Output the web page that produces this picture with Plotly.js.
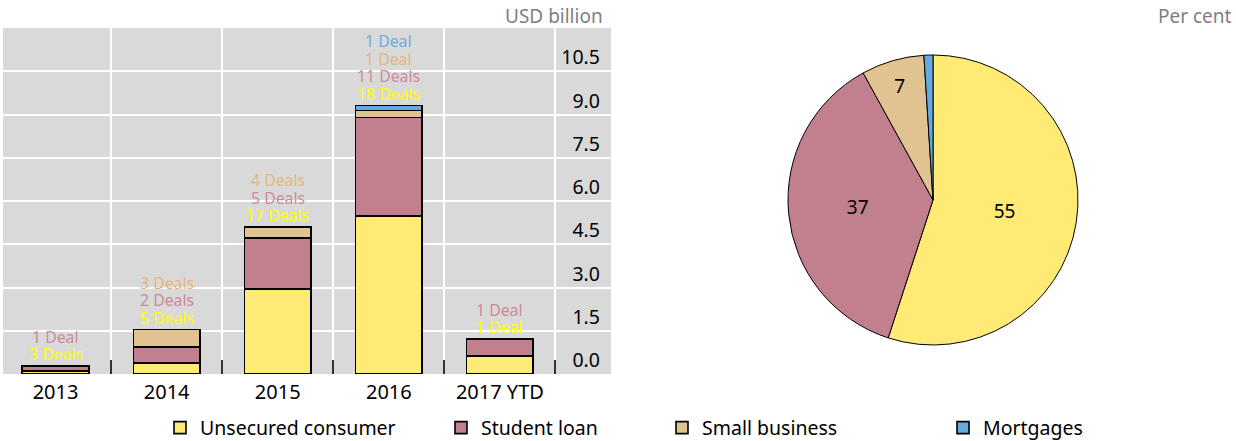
<!DOCTYPE html>
<html>
<head>
<meta charset="utf-8">
<script src="https://cdn.plot.ly/plotly-3.0.1.min.js"></script>
<style>
  html, body { margin: 0; padding: 0; background: #ffffff; }
  #chart { width: 1236px; height: 441px; }
</style>
</head>
<body>
<div id="chart"></div>
<script>
// ---- Data ----
const categories = ['2013', '2014', '2015', '2016', '2017 YTD'];
const seriesNames = ['Unsecured consumer', 'Student loan', 'Small business', 'Mortgages'];
const unsecured = [0.10, 0.39, 2.94, 5.48, 0.63];
const studentLoan = [0.17, 0.54, 1.78, 3.42, 0.58];
const smallBusiness = [null, 0.61, 0.37, 0.24, null];
const mortgages = [null, null, null, 0.17, null];
const unsecuredDeals = ['3 Deals', '5 Deals', '17 Deals', '18 Deals', '1 Deal'];
const studentDeals = ['1 Deal', '2 Deals', '5 Deals', '11 Deals', '1 Deal'];
const smallBusinessDeals = ['', '3 Deals', '4 Deals', '1 Deal', ''];
const mortgageDeals = ['', '', '', '1 Deal', ''];
const pieShares = [55, 37, 7, 1];
const pieText = ['55', '37', '7', ''];
const yTickVals = [0, 1.5, 3, 4.5, 6, 7.5, 9, 10.5];

// ---- Styles ----
const fillColors = ['#ffea75', '#c27f8e', '#e1c391', '#66abdf'];
const labelColors = ['#ffff00', '#cc8b99', '#e3b680', '#69ade3'];
const FONT = 'Noto Sans, Open Sans, sans-serif';

const seriesValues = [unsecured, studentLoan, smallBusiness, mortgages];
const seriesDeals = [unsecuredDeals, studentDeals, smallBusinessDeals, mortgageDeals];
const legendIds = ['legend', 'legend', 'legend2', 'legend2'];

const traces = seriesValues.map((vals, s) => ({
  type: 'bar',
  name: seriesNames[s],
  x: categories,
  y: vals,
  marker: { color: fillColors[s], line: { color: '#000000', width: 1.6 } },
  legend: legendIds[s],
  hoverinfo: 'skip'
}));

traces.push({
  type: 'pie',
  values: pieShares,
  labels: seriesNames,
  text: pieText,
  textinfo: 'text',
  textposition: 'inside',
  insidetextorientation: 'horizontal',
  textfont: { family: FONT, size: 19, color: '#000000' },
  sort: false,
  direction: 'clockwise',
  rotation: 0,
  marker: { colors: fillColors, line: { color: '#000000', width: 1 } },
  showlegend: false,
  domain: { x: [788 / 1236, 1078 / 1236], y: [1 - 345 / 441, 1 - 55 / 441] },
  hoverinfo: 'skip'
});

// Deal labels stacked above each bar (x given as category index)
const annotations = [];
categories.forEach((cat, i) => {
  let total = 0;
  seriesValues.forEach(v => { total += (v[i] || 0); });
  let k = 0;
  seriesDeals.forEach((deals, s) => {
    if (deals[i]) {
      annotations.push({
        x: i, y: total, xref: 'x', yref: 'y',
        text: deals[i], showarrow: false,
        yanchor: 'middle', xanchor: 'center',
        yshift: 12 + k * 17.4,
        font: { family: FONT, size: 15.8, color: labelColors[s] }
      });
      k++;
    }
  });
});

annotations.push({
  xref: 'paper', yref: 'paper', x: 605 / 1236, y: 1 - 16 / 441,
  xanchor: 'right', yanchor: 'middle', showarrow: false,
  text: 'USD billion', font: { family: FONT, size: 19, color: '#7f7f7f' }
});
annotations.push({
  xref: 'paper', yref: 'paper', x: 1234 / 1236, y: 1 - 16 / 441,
  xanchor: 'right', yanchor: 'middle', showarrow: false,
  text: 'Per cent', font: { family: FONT, size: 19, color: '#7f7f7f' }
});

const layout = {
  width: 1236, height: 441,
  margin: { l: 0, r: 0, t: 0, b: 0, autoexpand: false },
  paper_bgcolor: '#ffffff',
  plot_bgcolor: '#d9d9d9',
  font: { family: FONT, size: 18, color: '#000000' },
  barmode: 'stack',
  bargap: 0.4,
  showlegend: true,
  xaxis: {
    type: 'category',
    categoryorder: 'array', categoryarray: categories,
    domain: [3 / 1236, 611 / 1236],
    range: [-0.473, 5.0],
    tickson: 'boundaries',
    ticks: 'inside', ticklen: 14, tickwidth: 2, tickcolor: '#333333',
    showgrid: true, gridcolor: '#ffffff', gridwidth: 2,
    showline: false, zeroline: false,
    automargin: false,
    ticklabelstandoff: 4,
    tickfont: { family: FONT, size: 20, color: '#000000' },
    fixedrange: true
  },
  yaxis: {
    domain: [1 - 374 / 441, 1 - 28 / 441],
    range: [0, 12],
    side: 'right',
    ticklabelposition: 'inside top',
    ticklabelstandoff: 8,
    tickvals: yTickVals,
    tickformat: '.1f',
    ticks: '',
    showgrid: true, gridcolor: '#ffffff', gridwidth: 2,
    showline: false, zeroline: false,
    automargin: false,
    tickfont: { family: FONT, size: 19.5, color: '#000000' },
    fixedrange: true
  },
  legend: {
    orientation: 'h', x: 160 / 1236, y: 1 - 428 / 441,
    xanchor: 'left', yanchor: 'middle',
    entrywidth: 236, traceorder: 'normal',
    font: { family: FONT, size: 19.5, color: '#000000' },
    bgcolor: 'rgba(0,0,0,0)'
  },
  legend2: {
    orientation: 'h', x: 662 / 1236, y: 1 - 428 / 441,
    xanchor: 'left', yanchor: 'middle',
    entrywidth: 236, traceorder: 'normal',
    font: { family: FONT, size: 19.5, color: '#000000' },
    bgcolor: 'rgba(0,0,0,0)'
  },
  annotations: annotations
};

Plotly.newPlot('chart', traces, layout, { displayModeBar: false, staticPlot: true });
</script>
</body>
</html>
